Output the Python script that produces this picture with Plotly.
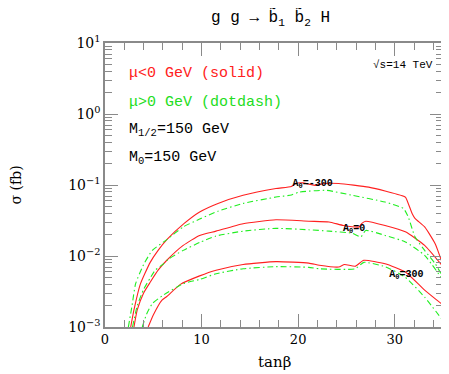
import plotly.graph_objects as go

# tan(beta) and sigma (fb)
x_m300_neg = [2.66, 3.0, 3.65, 4.68, 5.5, 6.4, 8.2, 9.8, 11.7, 14.3, 17.7, 19.3, 19.8, 20.5, 21.2, 21.8, 22.7, 24.2, 27.3, 29.0, 31.1, 31.4, 31.8, 32.1, 33.1, 34.2, 35.0]
y_m300_neg = [0.00100, 0.00174, 0.00398, 0.00813, 0.0120, 0.0170, 0.0288, 0.0417, 0.0550, 0.0716, 0.0891, 0.0955, 0.106, 0.107, 0.102, 0.0989, 0.105, 0.105, 0.0933, 0.0822, 0.0676, 0.0550, 0.0398, 0.0339, 0.0257, 0.0148, 0.00741]

x_m300_pos = [2.42, 2.8, 3.17, 4.0, 4.9, 6.4, 8.1, 9.8, 11.7, 14.3, 17.7, 19.3, 20.1, 22.9, 25.6, 29.0, 30.9, 31.4, 32.1, 33.1, 34.2, 35.0]
y_m300_pos = [0.00100, 0.00200, 0.00407, 0.00759, 0.0120, 0.0170, 0.0257, 0.0331, 0.0427, 0.0550, 0.0676, 0.0724, 0.0794, 0.0841, 0.0716, 0.0575, 0.0468, 0.0355, 0.0186, 0.0120, 0.00776, 0.00501]

x_0_neg = [3.0, 3.34, 4.0, 4.68, 5.5, 6.4, 8.1, 9.8, 11.5, 14.3, 17.7, 21.1, 23.2, 24.7, 26.3, 26.6, 27.0, 29.0, 31.1, 33.1, 35.0]
y_0_neg = [0.00100, 0.00174, 0.00302, 0.00427, 0.00631, 0.00871, 0.0141, 0.0195, 0.0224, 0.0285, 0.0324, 0.0309, 0.0302, 0.0269, 0.0257, 0.0288, 0.0309, 0.0269, 0.0219, 0.0141, 0.00708]

x_0_pos = [2.85, 3.34, 4.0, 4.68, 5.2, 6.05, 6.6, 8.1, 9.8, 11.5, 14.3, 17.7, 21.1, 23.2, 25.6, 26.5, 27.0, 29.0, 31.1, 33.1, 35.0]
y_0_pos = [0.00100, 0.00200, 0.00339, 0.00490, 0.00631, 0.00776, 0.00912, 0.0120, 0.0155, 0.0191, 0.0224, 0.0245, 0.0234, 0.0224, 0.0209, 0.0186, 0.0229, 0.0195, 0.0158, 0.0102, 0.00457]

x_300_neg = [4.47, 5.0, 5.9, 6.4, 7.8, 9.8, 11.5, 14.3, 17.7, 21.1, 22.2, 24.2, 24.8, 25.9, 26.8, 29.0, 31.1, 33.1, 35.0]
y_300_neg = [0.00100, 0.00148, 0.00240, 0.00269, 0.00398, 0.00525, 0.00631, 0.00759, 0.00832, 0.00794, 0.00741, 0.00700, 0.00759, 0.00716, 0.00871, 0.00776, 0.00596, 0.00331, 0.00204]

x_300_pos = [3.86, 4.3, 4.9, 6.05, 8.1, 9.8, 11.5, 14.3, 17.7, 21.1, 22.2, 25.9, 26.8, 29.0, 31.1, 33.1, 35.0]
y_300_pos = [0.00100, 0.00151, 0.00214, 0.00282, 0.00407, 0.00468, 0.00562, 0.00661, 0.00708, 0.00692, 0.00661, 0.00661, 0.00813, 0.00708, 0.00501, 0.00263, 0.00123]

curve_labels = ["<b>A<sub>0</sub>=-300</b>", "<b>A<sub>0</sub>=0</b>", "<b>A<sub>0</sub>=300</b>"]
label_x = [21.5, 25.8, 31.2]
label_y = [0.106, 0.0245, 0.0055]

y_tickvals = [0.001, 0.01, 0.1, 1, 10]
y_ticktext = ["10<sup>−3</sup>", "10<sup>−2</sup>", "10<sup>−1</sup>", "10<sup>0</sup>", "10<sup>1</sup>"]
x_tickvals = [0, 10, 20, 30]

RED = "#ff2020"
GREEN = "#22ee22"
SERIF = "DejaVu Serif"
MONO = "Liberation Mono"
AXC = "#8a8a8a"

fig = go.Figure()
for xs, ys in [(x_m300_neg, y_m300_neg), (x_0_neg, y_0_neg), (x_300_neg, y_300_neg)]:
    fig.add_trace(go.Scatter(x=xs, y=ys, mode="lines",
                             line=dict(color=RED, width=1.1, shape="spline", smoothing=0.5)))
for xs, ys in [(x_m300_pos, y_m300_pos), (x_0_pos, y_0_pos), (x_300_pos, y_300_pos)]:
    fig.add_trace(go.Scatter(x=xs, y=ys, mode="lines",
                             line=dict(color=GREEN, width=1.1, shape="spline", smoothing=0.5,
                                       dash="6px,3px,1.5px,3px")))
fig.add_trace(go.Scatter(x=label_x, y=label_y, mode="text", text=curve_labels,
                         textfont=dict(family=MONO, size=10, color="black")))

axis_common = dict(showline=True, linecolor=AXC, linewidth=1.5, mirror="ticks",
                   ticks="inside", tickcolor=AXC, showgrid=False, zeroline=False)

fig.update_xaxes(range=[0, 35], tickvals=x_tickvals, ticklen=13, tickwidth=1.2,
                 tickfont=dict(family=SERIF, size=13, color="black"),
                 minor=dict(ticks="inside", ticklen=7, dtick=2, tickcolor=AXC, showgrid=False),
                 **axis_common)
fig.update_yaxes(type="log", range=[-3, 1], tickvals=y_tickvals, ticktext=y_ticktext,
                 ticklen=13, tickwidth=1.2,
                 tickfont=dict(family=SERIF, size=14, color="black"),
                 minor=dict(ticks="inside", ticklen=7, dtick="D1", tickcolor=AXC, showgrid=False),
                 **axis_common)

ann = [
    dict(text="μ<0 GeV (solid)", y=0.893, color=RED),
    dict(text="μ>0 GeV (dotdash)", y=0.791, color="#22dd22"),
    dict(text="M<sub>1/2</sub>=150 GeV", y=0.693, color="black"),
    dict(text="M<sub>0</sub>=150 GeV", y=0.594, color="black"),
]
for a in ann:
    fig.add_annotation(text=a["text"], xref="paper", yref="paper", x=0.066, y=a["y"],
                       xanchor="left", yanchor="middle", showarrow=False,
                       font=dict(family=MONO, size=15, color=a["color"]))
fig.add_annotation(text="√s=14 TeV", xref="paper", yref="paper", x=0.975, y=0.921,
                   xanchor="right", yanchor="middle", showarrow=False,
                   font=dict(family=MONO, size=11, color="black"))
fig.add_annotation(text="g g → b\u0303<sub>1</sub> b\u0303<sub>2</sub> H", xref="paper", yref="paper",
                   x=0.49, y=1.09, xanchor="center", yanchor="middle", showarrow=False,
                   font=dict(family=MONO, size=16, color="black"))
fig.add_annotation(text="tanβ", xref="paper", yref="paper", x=0.5, y=-0.124,
                   xanchor="center", yanchor="middle", showarrow=False,
                   font=dict(family=SERIF, size=15, color="black"))
fig.add_annotation(text="σ (fb)", xref="paper", yref="paper", x=-0.262, y=0.5,
                   xanchor="center", yanchor="middle", showarrow=False, textangle=-90,
                   font=dict(family=SERIF, size=14, color="black"))

# page body adds an 8px offset, so the figure is 8px smaller and shifted margins
fig.update_layout(width=441, height=366, showlegend=False,
                  margin=dict(l=96.5, r=4, t=34.7, b=47.3),
                  paper_bgcolor="white", plot_bgcolor="white")

fig.write_html("out.html")
